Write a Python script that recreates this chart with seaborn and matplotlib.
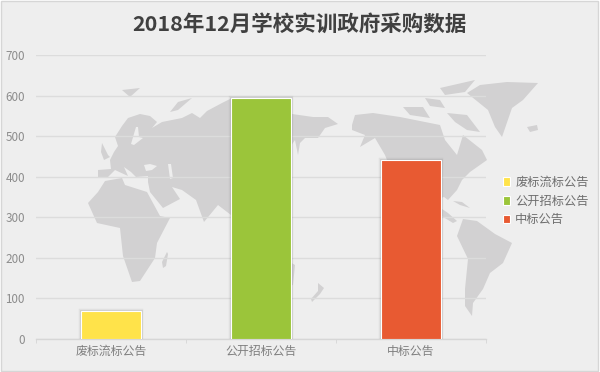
import matplotlib
matplotlib.use('Agg')
import matplotlib.pyplot as plt
import matplotlib.patheffects as pe
from matplotlib.patches import Patch, Polygon, Rectangle
import pandas as pd
import seaborn as sns

# data
categories = ['废标流标公告', '公开招标公告', '中标公告']
values = [68, 595, 442]
colors = ['#ffe34a', '#9bc53a', '#e85a32']
yticks = [0, 100, 200, 300, 400, 500, 600, 700]
title = '2018年12月学校实训政府采购数据'

# background map, rough outlines in image pixels (decoration only)
land = [
    # eurasia
    [(98,170),(111,169),(110,160),(114,152),(118,146),(115,137),(122,126),(128,118),(140,114),(150,116),
     (157,122),(152,128),(162,122),(172,120),(182,118),(192,113),(200,118),(207,111),(222,103),(232,98),
     (270,105),(292,114),(313,117),(328,117),(338,124),(325,128),(318,138),(305,138),(300,143),(298,155),
     (295,140),(288,150),(285,170),(280,200),(270,210),(250,218),(236,232),(231,215),(218,205),(204,222),
     (196,200),(182,190),(172,187),(180,199),(163,208),(150,192),(148,182),(148,176),(136,177),(131,172),
     (124,167),(128,176),(115,170),(107,178),(98,178)],
    # africa
    [(98,192),(105,181),(122,178),(125,185),(147,192),(160,216),(170,218),(157,243),(155,258),(140,281),
     (132,282),(123,256),(120,228),(97,223),(88,203)],
    [(163,268),(162,262),(167,252),(168,254),(166,266)],
    # north america
    [(352,125),(355,115),(373,113),(400,117),(425,122),(440,125),(445,140),(457,155),(463,135),(482,150),
     (487,160),(470,172),(462,180),(457,190),(448,200),(444,197),(435,200),(442,209),(448,213),(457,221),
     (453,223),(440,215),(420,205),(395,180),(385,155),(375,138),(360,147),(365,135),(352,130)],
    [(453,201),(462,202),(470,208),(460,205)],
    # canadian islands
    [(440,88),(475,80),(465,92),(445,95)],
    [(447,113),(467,115),(480,132),(467,130),(455,122)],
    [(403,107),(423,107),(430,118),(410,115)],
    [(425,98),(440,100),(445,108),(430,106)],
    # greenland, iceland
    [(467,93),(480,85),(507,82),(538,83),(523,100),(512,108),(502,137),(495,127),(488,110)],
    [(527,127),(537,125),(538,130),(530,132)],
    # south america
    [(457,236),(463,219),(477,221),(495,234),(512,243),(503,263),(490,273),(483,289),(473,303),(472,316),
     (465,306),(465,289),(468,259)],
    # others
    [(240,265),(270,250),(295,265),(293,285),(260,290),(240,280)],
    [(318,283),(324,288),(320,294),(312,302),(311,299),(318,291)],
    [(102,143),(108,155),(110,157),(104,160),(101,152)],
    [(170,112),(178,102),(192,98),(178,110)],
    [(122,90),(140,88),(130,97)],
]
water = [
    [(144,165),(150,164),(157,166),(152,170),(146,171)],
    [(168,164),(171,164),(173,178),(170,179)],
    [(136,127),(138,127),(139,137),(143,138),(134,145),(131,144)],
]

fig = plt.figure(figsize=(6, 3.72), dpi=100, facecolor='white')
plt.rcParams['font.family'] = ['Noto Sans CJK SC', 'DejaVu Sans']

bg = fig.add_axes([0, 0, 1, 1], zorder=0)
bg.set_xlim(0, 600)
bg.set_ylim(372, 0)
bg.axis('off')
bg.add_patch(Rectangle((0.5, 0.5), 597, 370, fc='#eeeeee', ec='#d6d6d6', lw=1))
for p in land:
    bg.add_patch(Polygon(p, fc='#d2d1d2', ec='none'))
for p in water:
    bg.add_patch(Polygon(p, fc='#eeeeee', ec='none'))

ax = fig.add_axes([36/600, 33/372, 450/600, 284/372], zorder=1)
ax.patch.set_alpha(0)

df = pd.DataFrame({'cat': categories, 'val': values})
sns.barplot(data=df, x='cat', y='val', hue='cat', palette=colors, dodge=False,
            width=0.4, saturation=1, legend=False, ax=ax, zorder=3)

# white edge and soft shadow
for b in ax.patches:
    b.set_edgecolor('white')
    b.set_linewidth(0.8)
    b.set_path_effects([pe.Stroke(linewidth=3.2, foreground='#808080', alpha=0.12),
                        pe.Stroke(linewidth=2, foreground='#808080', alpha=0.2),
                        pe.Normal()])

ax.set_xlim(-0.5, 2.5)
ax.set_ylim(0, 700)
ax.set_yticks(yticks)
ax.set_xlabel('')
ax.set_ylabel('')
ax.grid(axis='y', color='#dcdcdc', lw=1)
ax.set_axisbelow(True)
for s in ['top', 'left', 'right']:
    ax.spines[s].set_visible(False)
ax.spines['bottom'].set_color('#d6d6d6')
ax.spines['bottom'].set_linewidth(1)
ax.set_xticks([0, 1, 2])
ax.set_xticks([-0.5, 0.5, 1.5, 2.5], minor=True)
ax.tick_params(axis='x', which='major', length=0, labelsize=8.6, labelcolor='#7f7f7f', pad=4)
ax.tick_params(axis='x', which='minor', length=3, color='#d6d6d6')
ax.tick_params(axis='y', length=0, labelsize=8.4, labelcolor='#8c8c8c', pad=8)

fig.text(299.5/600, 1 - 24/372, title, ha='center', va='center', fontsize=15.5,
         fontweight='bold', color='#404040')

handles = [Patch(fc=c, ec='white', lw=0.8, label=n) for c, n in zip(colors, categories)]
fig.legend(handles=handles, loc='center left', bbox_to_anchor=(492/600, 1 - 201/372), frameon=False,
           fontsize=8.8, labelcolor='#6e6e6e', handlelength=0.6, handleheight=0.7,
           handletextpad=0.4, labelspacing=0.46)

plt.savefig('out.png', dpi=100)
plt.close()
